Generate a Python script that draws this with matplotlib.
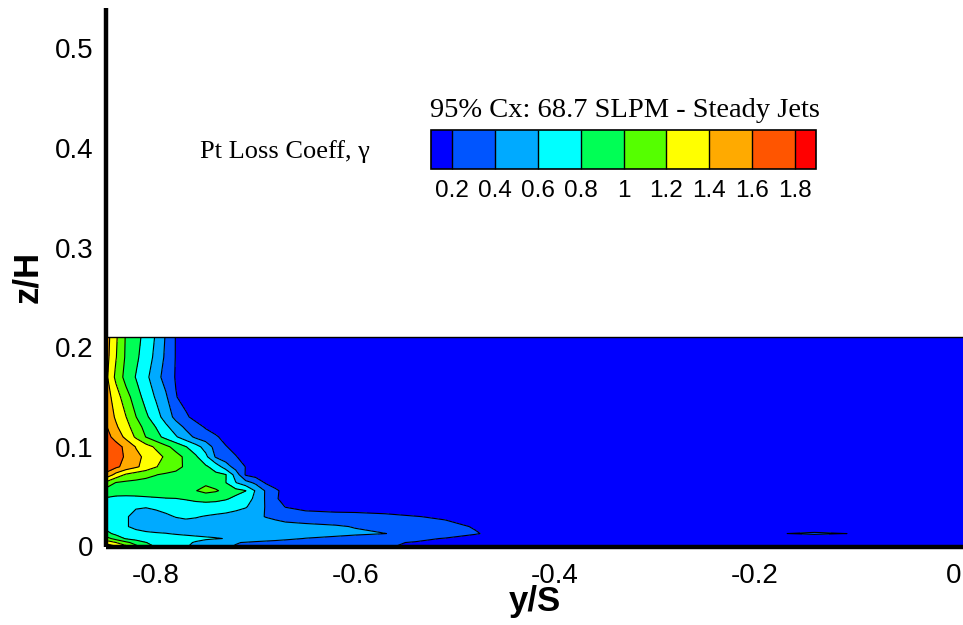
import numpy as np
import matplotlib
matplotlib.use("Agg")
import matplotlib.pyplot as plt
from matplotlib.colors import ListedColormap, BoundaryNorm

plt.rcParams['axes.unicode_minus'] = False

# ---------------- data ----------------
y_nodes = [-0.85, -0.84, -0.83, -0.82, -0.81, -0.80, -0.79, -0.78, -0.77, -0.76,
           -0.75, -0.74, -0.73, -0.72, -0.71, -0.70, -0.69, -0.68, -0.67, -0.65,
           -0.62, -0.60, -0.57, -0.54, -0.51, -0.48, -0.45,
           -0.20, -0.17, -0.14, -0.11, -0.08, -0.04, 0.01]
z_nodes = [0.0, 0.004, 0.008, 0.013, 0.02, 0.03, 0.04, 0.048, 0.056, 0.064,
           0.072, 0.08, 0.09, 0.10, 0.11, 0.12, 0.13, 0.15, 0.17, 0.19, 0.21]

gamma_z000 = [1.55, 1.42, 1.25, 1.05, 0.88, 0.78, 0.72, 0.66, 0.61, 0.57, 0.52, 0.47, 0.42, 0.39, 0.37, 0.35, 0.34, 0.33, 0.32, 0.30, 0.27, 0.25, 0.21, 0.18, 0.15, 0.12, 0.10,
              0.10, 0.10, 0.10, 0.10, 0.10, 0.10, 0.10]
gamma_z004 = [1.32, 1.20, 1.05, 0.92, 0.805, 0.74, 0.69, 0.65, 0.62, 0.59, 0.55, 0.50, 0.45, 0.41, 0.39, 0.37, 0.36, 0.35, 0.34, 0.32, 0.29, 0.27, 0.22, 0.19, 0.16, 0.13, 0.11,
              0.10, 0.10, 0.10, 0.10, 0.10, 0.10, 0.10]
gamma_z008 = [1.08, 0.92, 0.78, 0.72, 0.69, 0.67, 0.66, 0.65, 0.64, 0.63, 0.62, 0.61, 0.595, 0.57, 0.53, 0.50, 0.47, 0.45, 0.43, 0.395, 0.36, 0.33, 0.29, 0.24, 0.19, 0.15, 0.12,
              0.10, 0.10, 0.10, 0.10, 0.10, 0.10, 0.10]
gamma_z013 = [0.86, 0.75, 0.68, 0.64, 0.62, 0.61, 0.603, 0.59, 0.58, 0.57, 0.56, 0.55, 0.54, 0.53, 0.52, 0.51, 0.50, 0.49, 0.48, 0.47, 0.45, 0.43, 0.402, 0.35, 0.30, 0.21, 0.15,
              0.17, 0.198, 0.22, 0.201, 0.19, 0.15, 0.12]
gamma_z020 = [0.74, 0.68, 0.61, 0.57, 0.55, 0.54, 0.54, 0.54, 0.54, 0.53, 0.52, 0.51, 0.50, 0.50, 0.49, 0.48, 0.47, 0.46, 0.45, 0.44, 0.42, 0.39, 0.34, 0.29, 0.24, 0.19, 0.14,
              0.10, 0.10, 0.10, 0.10, 0.10, 0.10, 0.10]
gamma_z030 = [0.70, 0.66, 0.61, 0.57, 0.56, 0.56, 0.58, 0.605, 0.62, 0.61, 0.59, 0.57, 0.55, 0.52, 0.47, 0.43, 0.395, 0.37, 0.34, 0.31, 0.28, 0.27, 0.24, 0.205, 0.18, 0.15, 0.12,
              0.10, 0.10, 0.10, 0.10, 0.10, 0.10, 0.10]
gamma_z040 = [0.72, 0.69, 0.64, 0.61, 0.605, 0.62, 0.64, 0.66, 0.68, 0.69, 0.70, 0.70, 0.69, 0.66, 0.62, 0.50, 0.39, 0.30, 0.19, 0.12, 0.10, 0.10, 0.10, 0.10, 0.10, 0.10, 0.10,
              0.10, 0.10, 0.10, 0.10, 0.10, 0.10, 0.10]
gamma_z048 = [0.78, 0.76, 0.76, 0.76, 0.77, 0.78, 0.79, 0.795, 0.82, 0.86, 0.88, 0.86, 0.82, 0.76, 0.68, 0.56, 0.38, 0.22, 0.14, 0.10, 0.10, 0.10, 0.10, 0.10, 0.10, 0.10, 0.10,
              0.10, 0.10, 0.10, 0.10, 0.10, 0.10, 0.10]
gamma_z056 = [0.92, 0.88, 0.87, 0.88, 0.89, 0.90, 0.92, 0.94, 0.97, 0.995, 1.05, 1.02, 0.95, 0.86, 0.805, 0.58, 0.38, 0.23, 0.14, 0.10, 0.10, 0.10, 0.10, 0.10, 0.10, 0.10, 0.10,
              0.10, 0.10, 0.10, 0.10, 0.10, 0.10, 0.10]
gamma_z064 = [1.15, 0.99, 0.96, 0.95, 0.94, 0.94, 0.94, 0.95, 0.96, 0.97, 0.97, 0.92, 0.805, 0.61, 0.48, 0.36, 0.18, 0.12, 0.10, 0.10, 0.10, 0.10, 0.10, 0.10, 0.10, 0.10, 0.10,
              0.10, 0.10, 0.10, 0.10, 0.10, 0.10, 0.10]
gamma_z072 = [1.55, 1.33, 1.17, 1.10, 1.05, 1.005, 0.97, 0.95, 0.93, 0.90, 0.87, 0.84, 0.81, 0.52, 0.18, 0.12, 0.10, 0.10, 0.10, 0.10, 0.10, 0.10, 0.10, 0.10, 0.10, 0.10, 0.10,
              0.10, 0.10, 0.10, 0.10, 0.10, 0.10, 0.10]
gamma_z080 = [1.72, 1.64, 1.53, 1.43, 1.33, 1.21, 1.13, 1.06, 0.97, 0.89, 0.83, 0.72, 0.50, 0.32, 0.195, 0.14, 0.10, 0.10, 0.10, 0.10, 0.10, 0.10, 0.10, 0.10, 0.10, 0.10, 0.10,
              0.10, 0.10, 0.10, 0.10, 0.10, 0.10, 0.10]
gamma_z090 = [1.76, 1.69, 1.57, 1.45, 1.36, 1.27, 1.17, 1.07, 0.96, 0.83, 0.65, 0.38, 0.29, 0.21, 0.14, 0.10, 0.10, 0.10, 0.10, 0.10, 0.10, 0.10, 0.10, 0.10, 0.10, 0.10, 0.10,
              0.10, 0.10, 0.10, 0.10, 0.10, 0.10, 0.10]
gamma_z100 = [1.76, 1.68, 1.55, 1.39, 1.28, 1.17, 1.05, 0.93, 0.81, 0.68, 0.52, 0.33, 0.21, 0.15, 0.10, 0.10, 0.10, 0.10, 0.10, 0.10, 0.10, 0.10, 0.10, 0.10, 0.10, 0.10, 0.10,
              0.10, 0.10, 0.10, 0.10, 0.10, 0.10, 0.10]
gamma_z110 = [1.68, 1.52, 1.35, 1.17, 0.995, 0.87, 0.74, 0.62, 0.49, 0.36, 0.29, 0.22, 0.15, 0.10, 0.10, 0.10, 0.10, 0.10, 0.10, 0.10, 0.10, 0.10, 0.10, 0.10, 0.10, 0.10, 0.10,
              0.10, 0.10, 0.10, 0.10, 0.10, 0.10, 0.10]
gamma_z120 = [1.62, 1.43, 1.27, 1.10, 0.93, 0.795, 0.64, 0.50, 0.36, 0.27, 0.18, 0.13, 0.10, 0.10, 0.10, 0.10, 0.10, 0.10, 0.10, 0.10, 0.10, 0.10, 0.10, 0.10, 0.10, 0.10, 0.10,
              0.10, 0.10, 0.10, 0.10, 0.10, 0.10, 0.10]
gamma_z130 = [1.55, 1.37, 1.205, 1.005, 0.84, 0.68, 0.52, 0.34, 0.23, 0.14, 0.10, 0.10, 0.10, 0.10, 0.10, 0.10, 0.10, 0.10, 0.10, 0.10, 0.10, 0.10, 0.10, 0.10, 0.10, 0.10, 0.10,
              0.10, 0.10, 0.10, 0.10, 0.10, 0.10, 0.10]
gamma_z150 = [1.50, 1.30, 1.08, 0.90, 0.72, 0.58, 0.43, 0.21, 0.13, 0.10, 0.10, 0.10, 0.10, 0.10, 0.10, 0.10, 0.10, 0.10, 0.10, 0.10, 0.10, 0.10, 0.10, 0.10, 0.10, 0.10, 0.10,
              0.10, 0.10, 0.10, 0.10, 0.10, 0.10, 0.10]
gamma_z170 = [1.45, 1.15, 0.93, 0.79, 0.65, 0.48, 0.32, 0.185, 0.12, 0.10, 0.10, 0.10, 0.10, 0.10, 0.10, 0.10, 0.10, 0.10, 0.10, 0.10, 0.10, 0.10, 0.10, 0.10, 0.10, 0.10, 0.10,
              0.10, 0.10, 0.10, 0.10, 0.10, 0.10, 0.10]
gamma_z190 = [1.48, 1.21, 0.97, 0.84, 0.70, 0.55, 0.36, 0.19, 0.12, 0.10, 0.10, 0.10, 0.10, 0.10, 0.10, 0.10, 0.10, 0.10, 0.10, 0.10, 0.10, 0.10, 0.10, 0.10, 0.10, 0.10, 0.10,
              0.10, 0.10, 0.10, 0.10, 0.10, 0.10, 0.10]
gamma_z210 = [1.50, 1.23, 0.98, 0.87, 0.73, 0.58, 0.38, 0.19, 0.12, 0.10, 0.10, 0.10, 0.10, 0.10, 0.10, 0.10, 0.10, 0.10, 0.10, 0.10, 0.10, 0.10, 0.10, 0.10, 0.10, 0.10, 0.10,
              0.10, 0.10, 0.10, 0.10, 0.10, 0.10, 0.10]

levels = [0.2, 0.4, 0.6, 0.8, 1.0, 1.2, 1.4, 1.6, 1.8]
level_labels = ["0.2", "0.4", "0.6", "0.8", "1", "1.2", "1.4", "1.6", "1.8"]
x_ticks = [-0.8, -0.6, -0.4, -0.2, 0.0]
x_tick_labels = ["-0.8", "-0.6", "-0.4", "-0.2", "0"]
y_ticks = [0.0, 0.1, 0.2, 0.3, 0.4, 0.5]
y_tick_labels = ["0", "0.1", "0.2", "0.3", "0.4", "0.5"]

# ---------------- build field ----------------
rows = [gamma_z000, gamma_z004, gamma_z008, gamma_z013, gamma_z020, gamma_z030,
        gamma_z040, gamma_z048, gamma_z056, gamma_z064, gamma_z072, gamma_z080,
        gamma_z090, gamma_z100, gamma_z110, gamma_z120, gamma_z130, gamma_z150,
        gamma_z170, gamma_z190, gamma_z210]
V = np.array(rows, dtype=float)
Yg, Zg = np.meshgrid(np.array(y_nodes), np.array(z_nodes))

band_colors = ['#0055FF', '#00AAFF', '#00FFFF', '#00FF55', '#55FF00',
               '#FFFF00', '#FFAA00', '#FF5500']
cmap = ListedColormap(band_colors)
cmap.set_under('#0000FF')
cmap.set_over('#FF0000')
norm = BoundaryNorm(levels, cmap.N)

fig = plt.figure(figsize=(9.63, 6.25), dpi=100)
ax = fig.add_axes([106 / 963, (625 - 546.5) / 625, (963 - 106) / 963, (546.5 - 8) / 625])

cf = ax.contourf(Yg, Zg, V, levels=levels, cmap=cmap, norm=norm, extend='both')
ax.contour(Yg, Zg, V, levels=levels, colors='k', linewidths=0.8)
ax.plot([y_nodes[0], y_nodes[-1]], [z_nodes[-1], z_nodes[-1]], color='k', lw=1.0)

ax.set_xlim(-0.85, 0.009)
ax.set_ylim(0, 0.5405)
for s in ['top', 'right']:
    ax.spines[s].set_visible(False)
for s in ['left', 'bottom']:
    ax.spines[s].set_linewidth(3.2)
    ax.spines[s].set_capstyle('butt')

tick_font = dict(family='Liberation Sans', size=20)
ax.set_xticks(x_ticks)
ax.set_xticklabels(x_tick_labels, fontdict=tick_font)
ax.set_yticks(y_ticks)
ax.set_yticklabels(y_tick_labels, fontdict=tick_font)
ax.tick_params(axis='both', length=0)
ax.tick_params(axis='x', pad=12)
ax.tick_params(axis='y', pad=9)

ax.set_xlabel('y/S', family='Liberation Sans', weight='bold', size=25)
ax.set_ylabel('z/H', family='Liberation Sans', weight='bold', size=25)
ax.xaxis.set_label_coords(0.5, -0.072)
ax.yaxis.set_label_coords(-0.072, 0.5)

# ---------------- legend ----------------
cax = fig.add_axes([431 / 963, (625 - 168.7) / 625, 385 / 963, 39 / 625])
cb = fig.colorbar(cf, cax=cax, orientation='horizontal', extend='both',
                  extendrect=True, extendfrac=0.0625, drawedges=True, ticks=levels)
cb.set_ticklabels(level_labels)
cb.outline.set_linewidth(1.2)
cb.outline.set_edgecolor('k')
cb.dividers.set_color('k')
cb.dividers.set_linewidth(1.0)
cax.tick_params(length=0, pad=8, labelsize=17.5)
for t in cax.get_xticklabels():
    t.set_family('Liberation Sans')

fig.text(625 / 963, (625 - 116.6) / 625, '95% Cx: 68.7 SLPM - Steady Jets',
         family='Liberation Serif', size=20.5, ha='center', va='baseline')
fig.text(200 / 963, (625 - 152) / 625, 'Pt Loss Coeff, \u03b3',
         family='Liberation Serif', size=19, ha='left', va='center')

fig.savefig('out.png', dpi=100)
